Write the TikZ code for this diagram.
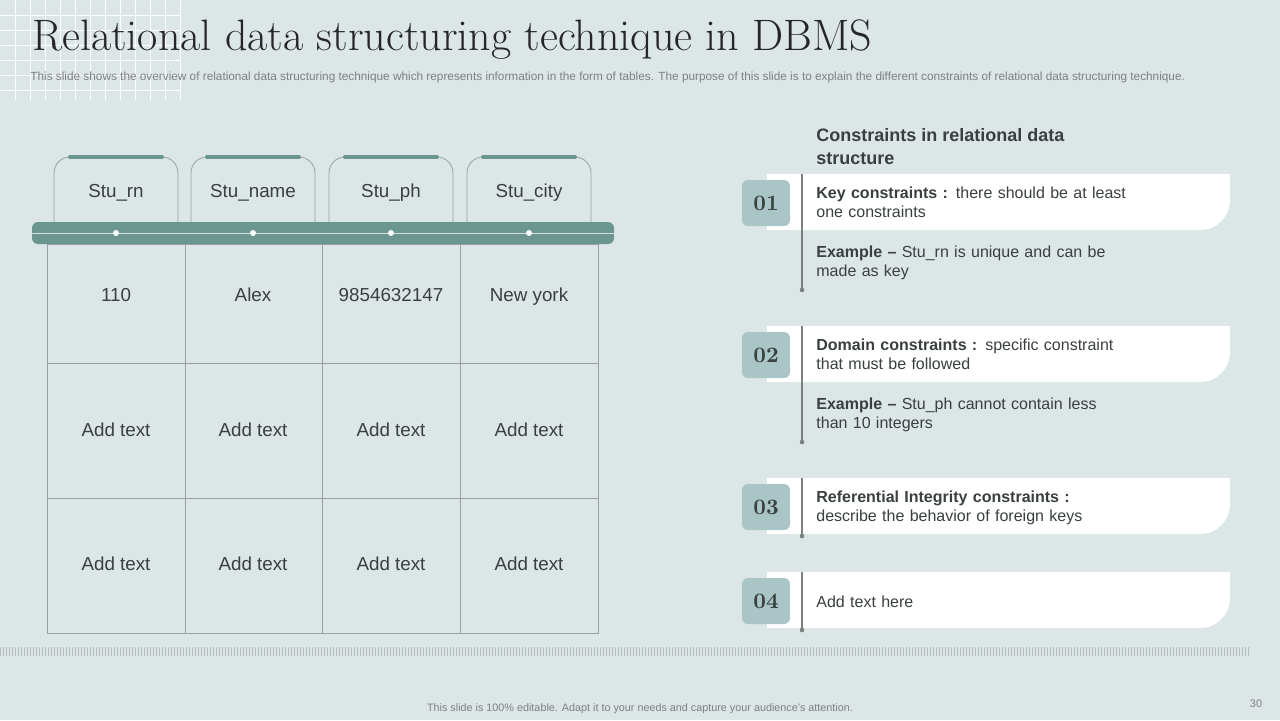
\documentclass[tikz,border=0pt]{standalone}
\usepackage{fontspec}
\setmainfont{Liberation Sans}
\newfontfamily\titlefont{Latin Modern Roman}
\usetikzlibrary{positioning}
\definecolor{bgc}{HTML}{DCE6E6}
\definecolor{teal}{HTML}{6A968F}
\definecolor{numc}{HTML}{A9C5C5}
\definecolor{ink}{HTML}{3A3F3F}
\definecolor{rule}{HTML}{9AA0A0}
\begin{document}
\begin{tikzpicture}[x=0.5pt,y=-0.5pt,
        cell/.style={font=\fontsize{9.4}{11}\selectfont, text=ink, text height=7pt, text depth=2pt},
        tab/.style={draw=rule, line width=0.4pt, rounded corners=8pt},
        numbox/.style={fill=numc, rounded corners=3pt, minimum width=24pt, minimum height=23pt, font=\titlefont\bfseries\fontsize{11}{12}\selectfont, text=ink},
        desc/.style={anchor=north west, align=left, text width=160pt, font=\fontsize{8}{9.5}\selectfont, text=ink, inner sep=0pt},
        band/.style={fill=white}
    ]
    % background
    \fill[bgc] (0,0) rectangle (1280,720);
    \useasboundingbox (0,0) rectangle (1280,720);
    \foreach \g in {15,30,...,180} {
        \draw[white, line width=0.3pt] (\g,0) -- (\g,100);
    }
    \foreach \g in {15,30,...,100} {
        \draw[white, line width=0.3pt] (0,\g) -- (180,\g);
    }

    % title
    \node[anchor=base west, inner sep=0pt, text=black!85, font=\titlefont\fontsize{22}{24}\selectfont] (title) at (32,50) {Relational data structuring technique in DBMS};
    \node[anchor=base west, inner sep=0pt, text=gray, font=\fontsize{5.9}{6}\selectfont] (sub) at (30,80) {This slide shows the overview of relational data structuring technique which represents information in the form of tables. The purpose of this slide is to explain the different constraints of relational data structuring technique.};

    % header tabs
    \foreach \x/\t [count=\i] in {54/Stu\_rn, 191/Stu\_name, 329/Stu\_ph, 467/Stu\_city} {
        \draw[tab] (\x,224) -- (\x,157) -- (\x+124,157) -- (\x+124,224);
        \draw[teal, line width=2pt, line cap=round] (\x+16,157) -- (\x+108,157);
        \node[cell] (h\i) at (\x+62,192) {\t};
    }

    % bar
    \fill[teal, rounded corners=3pt] (32,222) rectangle (614,244);
    \draw[white!70!teal, line width=0.5pt] (32,233) -- (614,233);
    \foreach \x in {116,253,391,529} {
        \fill[white] (\x,233) circle (3);
    }

    % table
    \draw[rule, line width=0.45pt] (47,244) rectangle (598,633);
    \foreach \x in {185,322,460} {
        \draw[rule, line width=0.45pt] (\x,244) -- (\x,633);
    }
    \foreach \y in {363,498} {
        \draw[rule, line width=0.45pt] (47,\y) -- (598,\y);
    }
    \node[cell] (r1) at (116,296) {110};
    \node[cell] (r2) at (253,296) {Alex};
    \node[cell] (r3) at (391,296) {9854632147};
    \node[cell] (r4) at (529,296) {New york};
    \foreach \y/\r in {431/b, 565/c} {
        \foreach \x [count=\i] in {116,253,391,529} {
            \node[cell] (\r\i) at (\x,\y) {Add text};
        }
    }

    % right side heading
    \node[anchor=north west, align=left, inner sep=0pt, text=ink, font=\bfseries\fontsize{9}{11.5}\selectfont] (head) at (816,128) {Constraints in relational data\\structure};

    % constraint items
    \foreach \y/\n/\e in {174/01/290, 326/02/442, 478/03/536, 572/04/630} {
        \fill[band] (767,\y) -- (1230,\y) -- (1230,\y+26) to[out=-90, in=0] (1200,\y+56) -- (767,\y+56) -- cycle;
        \node[numbox] (n\n) at (766,\y+29) {\n};
        \draw[rule!80!black, line width=0.7pt] (802,\y) -- (802,\e);
        \fill[rule!80!black] (802,\e) circle (2.3);
    }
    \node[desc] (k1) at (816,186) {\textbf{Key constraints :} there should be at least\\one constraints};
    \node[desc] (e1) at (816,245) {\textbf{Example --} Stu\_rn is unique and can be\\made as key};
    \node[desc] (k2) at (816,338) {\textbf{Domain constraints :} specific constraint\\that must be followed};
    \node[desc] (e2) at (816,397) {\textbf{Example --} Stu\_ph cannot contain less\\than 10 integers};
    \node[desc] (k3) at (816,490) {\textbf{Referential Integrity constraints :}\\describe the behavior of foreign keys};
    \node[desc, anchor=west] (k4) at (816,602) {Add text here};

    % footer
    \foreach \x in {0,3,...,1248} {
        \draw[rule!60!bgc, line width=0.3pt] (\x,647) -- (\x,656);
    }
    \node[text=gray, font=\fontsize{5.4}{6}\selectfont] (foot) at (640,709) {This slide is 100\% editable. Adapt it to your needs and capture your audience's attention.};
    \node[text=gray, font=\fontsize{5.5}{6}\selectfont] (page) at (1256,704) {30};
\end{tikzpicture}
\end{document}
